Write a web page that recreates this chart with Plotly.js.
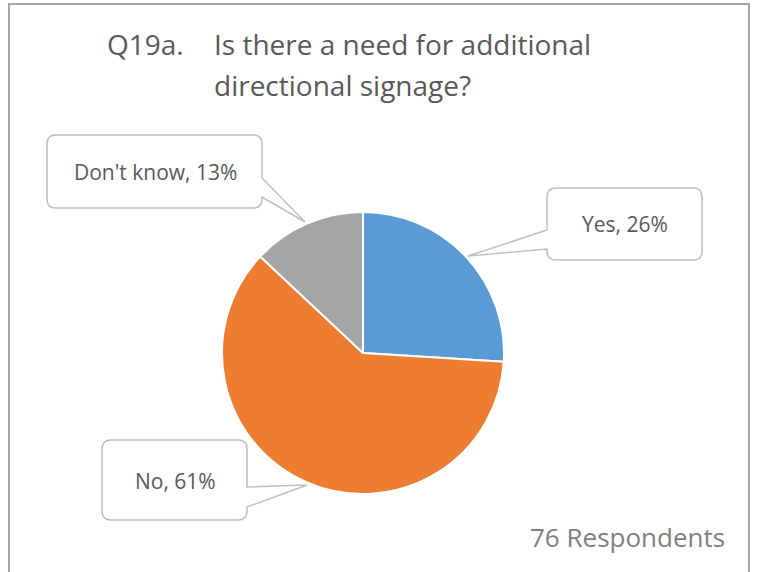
<!DOCTYPE html>
<html>
<head>
<meta charset="utf-8">
<script src="https://cdn.plot.ly/plotly-3.0.1.min.js"></script>
<style>html,body{margin:0;padding:0;background:#fff;}#chart{width:757px;height:572px;}</style>
</head>
<body>
<div id="chart"></div>
<script>
var categories = ["Yes", "No", "Don't know"];
var values = [26, 61, 13];
var colors = ["#5B9BD5", "#ED7D31", "#A5A5A5"];
var titleLines = ["Q19a.", "Is there a need for additional", "directional signage?"];
var footnote = "76 Respondents";

var W = 757, H = 572;
function px(x) { return x / W; }
function py(y) { return (H - y) / H; }
function P(x, y) { return px(x).toFixed(5) + "," + py(y).toFixed(5); }

// rounded callout with tail on a given side
function callout(x0, y0, x1, y1, r, side, ta, tb, tip) {
  var d = "M" + P(x0 + r, y0) + " L" + P(x1 - r, y0) + " Q" + P(x1, y0) + " " + P(x1, y0 + r);
  if (side === "right") d += " L" + P(x1, ta) + " L" + P(tip[0], tip[1]) + " L" + P(x1, tb);
  d += " L" + P(x1, y1 - r) + " Q" + P(x1, y1) + " " + P(x1 - r, y1);
  d += " L" + P(x0 + r, y1) + " Q" + P(x0, y1) + " " + P(x0, y1 - r);
  if (side === "left") d += " L" + P(x0, tb) + " L" + P(tip[0], tip[1]) + " L" + P(x0, ta);
  d += " L" + P(x0, y0 + r) + " Q" + P(x0, y0) + " " + P(x0 + r, y0) + " Z";
  return {type: "path", xref: "paper", yref: "paper", path: d,
          fillcolor: "#FFFFFF", line: {color: "#BFBFBF", width: 1.5}, layer: "above"};
}

var FAM = "'Open Sans', sans-serif";
var labelFont = {family: FAM, size: 21, color: "#595959"};
function label(text, x, y) {
  return {text: text, xref: "paper", yref: "paper", x: px(x), y: py(y),
          xanchor: "center", yanchor: "middle", showarrow: false, font: labelFont};
}

var trace = {
  type: "pie",
  labels: categories,
  values: values,
  marker: {colors: colors, line: {color: "#FFFFFF", width: 2}},
  sort: false,
  direction: "clockwise",
  rotation: 0,
  textinfo: "none",
  hoverinfo: "label+percent",
  domain: {x: [px(222), px(504)], y: [py(494), py(212)]},
  showlegend: false
};

var titleFont = {family: FAM, size: 28, color: "#595959"};

var layout = {
  width: W, height: H,
  margin: {l: 0, r: 0, t: 0, b: 0},
  paper_bgcolor: "#FFFFFF",
  showlegend: false,
  shapes: [
    {type: "rect", xref: "paper", yref: "paper", x0: px(9), x1: px(749), y0: -0.02, y1: py(4),
     line: {color: "#A6A6A6", width: 2}, fillcolor: "rgba(0,0,0,0)", layer: "below"},
    callout(547, 188, 702, 260, 9, "left", 230, 249, [468, 256]),
    callout(47, 135, 262, 208, 9, "right", 178, 197, [305, 222]),
    callout(102, 440, 247, 520, 9, "right", 487, 507, [307, 485])
  ],
  annotations: [
    {text: titleLines[0], xref: "paper", yref: "paper", x: px(105), y: py(44), xanchor: "left", yanchor: "middle", showarrow: false, font: titleFont},
    {text: titleLines[1], xref: "paper", yref: "paper", x: px(212), y: py(44), xanchor: "left", yanchor: "middle", showarrow: false, font: titleFont},
    {text: titleLines[2], xref: "paper", yref: "paper", x: px(212), y: py(85), xanchor: "left", yanchor: "middle", showarrow: false, font: titleFont},
    label(categories[0] + ", " + values[0] + "%", 625, 224),
    label(categories[2] + ", " + values[2] + "%", 155, 172),
    label(categories[1] + ", " + values[1] + "%", 175, 481),
    {text: footnote, xref: "paper", yref: "paper", x: px(727), y: py(537), xanchor: "right", yanchor: "middle", showarrow: false,
     font: {family: FAM, size: 26, color: "#7F7F7F"}}
  ]
};

Plotly.newPlot("chart", [trace], layout, {displayModeBar: false, staticPlot: true});
</script>
</body>
</html>
